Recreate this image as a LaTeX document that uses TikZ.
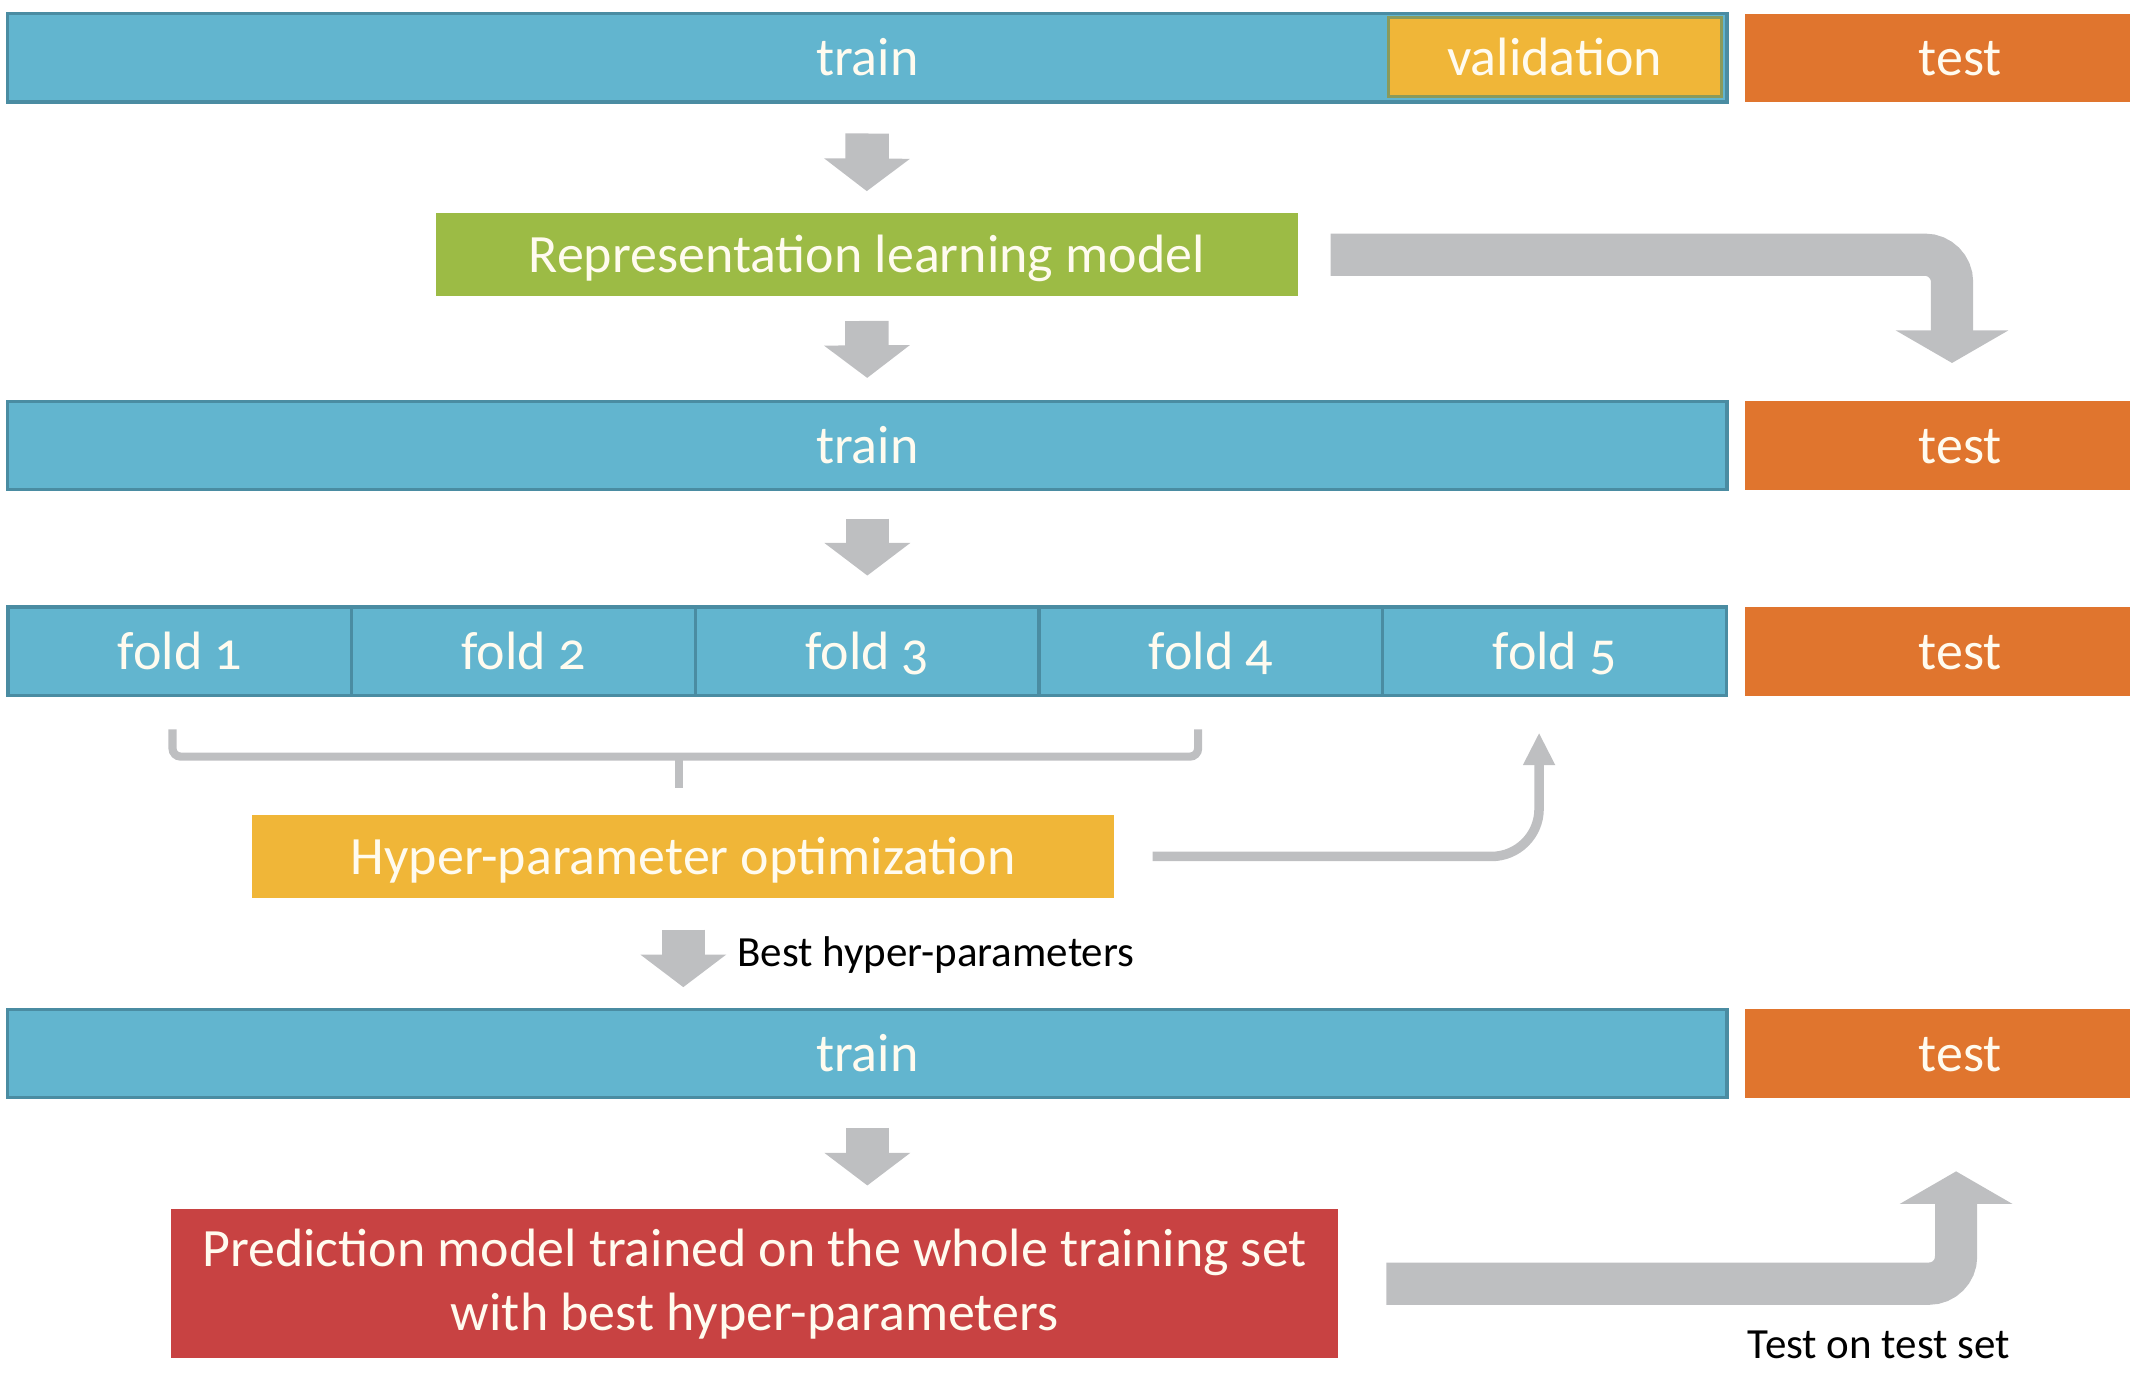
\documentclass[tikz,border=0pt]{standalone}
\usepackage{fontspec}
\setmainfont{Carlito}[Numbers=OldStyle]
\usetikzlibrary{arrows.meta,positioning}

\definecolor{trainblue}{HTML}{62B5CF}
\definecolor{trainedge}{HTML}{4A8CA2}
\definecolor{testorange}{HTML}{E0752E}
\definecolor{validyellow}{HTML}{F0B638}
\definecolor{validedge}{HTML}{8A9A5B}
\definecolor{reprgreen}{HTML}{9CBB45}
\definecolor{predred}{HTML}{C84242}
\definecolor{flowgray}{HTML}{BEBFC1}
\definecolor{boxtext}{HTML}{FFFBEF}

\begin{document}
\begin{tikzpicture}[x=0.01cm, y=-0.01cm,
  bar/.style={draw=trainedge, line width=0.25mm, fill=trainblue, text=boxtext,
    minimum height=6.5mm, inner sep=0pt, text height=1.6ex, text depth=0pt, font=\fontsize{11.3}{13.4}\selectfont},
  testbar/.style={bar, draw=none, fill=testorange, minimum width=3.16cm},
  stagebox/.style={bar, draw=none, minimum height=6.1mm, minimum width=6.34cm},
  blockarrow/.style={draw=flowgray, line width=3.2mm, -{Triangle[width=6.2mm,length=2.4mm]}},
  bentarrow/.style={draw=flowgray, line width=3.1mm, rounded corners=2mm, -{Triangle[width=8.2mm,length=2.4mm]}},
  thinarrow/.style={draw=flowgray, line width=0.7mm, rounded corners=3.5mm, -{Triangle[width=2.2mm,length=2.4mm]}},
  smalllabel/.style={font=\fontsize{9}{10}\selectfont, inner sep=0pt}]
  \clip (0,0) rectangle (1568,1019);

  % Split 1: train / validation / test
  \node[bar, minimum width=12.65cm] (train1) at (638.5,42.5) {train};
  \node[bar, draw=validedge, line width=0.2mm, fill=validyellow, minimum width=2.45cm, minimum height=5.8mm] (valid) at (1144.5,42) {validation};
  \node[testbar] (test1) at (1443,42.5) {test};

  % Representation learning
  \node[stagebox, fill=reprgreen] (repr) at (638,187.5) {Representation learning model};
  \draw[blockarrow, shorten <=2.2mm, shorten >=1.5mm] (train1.south) -- (repr.north);

  % Split 2: train / test
  \node[bar, minimum width=12.65cm] (train2) at (638.5,328) {train};
  \node[testbar] (test2) at (1443,328) {test};
  \draw[blockarrow, shorten <=1.7mm, shorten >=1.6mm] (repr.south) -- (train2.north);
  \draw[bentarrow, shorten <=2.3mm, shorten >=2.7mm] (repr.east) -| ([xshift=-0.6mm]test2.north);

  % Split 3: five folds / test
  \node[bar, minimum width=2.53cm] (fold1) at (132.5,479.5) {fold 1};
  \node[bar, minimum width=2.53cm] (fold2) at (385.5,479.5) {fold 2};
  \node[bar, minimum width=2.53cm] (fold3) at (638.5,479.5) {fold 3};
  \node[bar, minimum width=2.53cm] (fold4) at (891.5,479.5) {fold 4};
  \node[bar, minimum width=2.53cm] (fold5) at (1144.5,479.5) {fold 5};
  \node[testbar] (test3) at (1443,479.5) {test};
  \draw[blockarrow, shorten <=2.0mm, shorten >=2.2mm] (train2.south) -- (fold3.north);

  % Bracket over folds 1-4
  \draw[flowgray, line width=0.6mm, rounded corners=0.6mm] (127,537) -- (127,557) -- (882,557) -- (882,537);
  \draw[flowgray, line width=0.6mm] (500,557) -- (500,580);

  % Hyper-parameter optimization
  \node[stagebox, fill=validyellow] (hyper) at (503,630.5) {Hyper-parameter optimization};
  \draw[thinarrow, shorten <=2.7mm, shorten >=2.6mm] (hyper.east) -| ([xshift=-1.15mm]fold5.south);

  % Split 4: train / test
  \node[bar, minimum width=12.65cm] (train4) at (638.5,775.5) {train};
  \node[testbar] (test4) at (1443,775.5) {test};
  \draw[blockarrow, shorten <=2.2mm, shorten >=1.5mm] (hyper.south) -- (hyper.south |- train4.north);
  \node[smalllabel, anchor=west] (bestlbl) at (542,703) {Best hyper-parameters};

  % Final prediction model
  \node[stagebox, fill=predred, minimum width=8.59cm, minimum height=11mm, align=center, text height=, text depth=] (pred) at (555.5,945)
    {Prediction model trained on the whole training set\\ with best hyper-parameters};
  \draw[blockarrow, shorten <=2.1mm, shorten >=1.6mm] (train4.south) -- (train4.south |- pred.north);
  \draw[bentarrow, shorten <=3.4mm, shorten >=5.3mm] (pred.east) -| ([xshift=-0.3mm]test4.south);
  \node[smalllabel, anchor=west] (testlbl) at (1286,990) {Test on test set};

\end{tikzpicture}
\end{document}
